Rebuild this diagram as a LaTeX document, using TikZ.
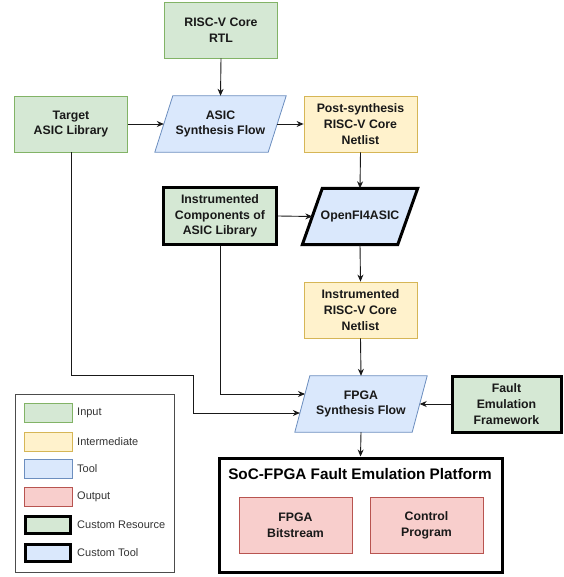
\documentclass[tikz,border=0pt]{standalone}
\usepackage{fontspec}
\setmainfont{Liberation Sans}
\usetikzlibrary{arrows.meta,calc,backgrounds}
\definecolor{ingf}{HTML}{D5E8D4}\definecolor{ingd}{HTML}{82B366}
\definecolor{imf}{HTML}{FFF2CC}\definecolor{imd}{HTML}{D6B656}
\definecolor{tof}{HTML}{DAE8FC}\definecolor{tod}{HTML}{6C8EBF}
\definecolor{ouf}{HTML}{F8CECC}\definecolor{oud}{HTML}{B85450}
\newcommand{\plgram}[3]{\begin{scope}[on background layer]\draw[#3] ([xshift=#2]#1.north west) -- ([xshift=#2]#1.north east) -- ([xshift=-#2]#1.south east) -- ([xshift=-#2]#1.south west) -- cycle;\end{scope}}
\tikzset{
  base/.style={align=center, font=\bfseries\fontsize{12.3}{15.8}\selectfont, minimum width=113pt, minimum height=56pt, inner sep=0pt, text=black!90},
  inbox/.style={base, draw=ingd, fill=ingf, line width=0.8pt},
  midbox/.style={base, draw=imd, fill=imf, line width=0.8pt},
  outbox/.style={base, draw=oud, fill=ouf, line width=0.8pt},
  custbox/.style={base, draw=black, fill=ingf, line width=3pt},
  toolnode/.style={base},
  toolshape/.style={draw=tod, fill=tof, line width=0.8pt},
  custshape/.style={draw=black, fill=tof, line width=3pt},
  arr/.style={-{Stealth[length=7pt,width=6pt]}, line width=0.9pt, black!90},
  swatch/.style={minimum width=48pt, minimum height=19pt, inner sep=0pt},
  leglabel/.style={anchor=west, font=\fontsize{11}{13}\selectfont, text=black!80, inner sep=0pt}
}
\begin{document}
\begin{tikzpicture}[x=1pt,y=-1pt]
\useasboundingbox (0,0) rectangle (563,577);
% main nodes
\node[inbox] (rtl) at (221,30) {RISC-V Core\\RTL};
\node[inbox] (target) at (71,124) {Target\\ASIC Library};
\node[toolnode] (asic) at (220.5,124) {ASIC\\Synthesis Flow};
\plgram{asic}{9pt}{toolshape}
\node[midbox] (post) at (360.5,124) {Post-synthesis\\RISC-V Core\\Netlist};
\node[custbox] (instcomp) at (220,216) {Instrumented\\Components of\\ASIC Library};
\node[toolnode, minimum width=95pt] (openfi) at (360,216.5) {OpenFI4ASIC};
\plgram{openfi}{10pt}{custshape}
\node[midbox] (instnet) at (360.5,310) {Instrumented\\RISC-V Core\\Netlist};
\node[toolnode, minimum width=117pt] (fpga) at (361,404) {FPGA\\Synthesis Flow};
\plgram{fpga}{7.5pt}{toolshape}
\node[custbox, minimum width=109pt] (fault) at (506.5,404) {Fault\\Emulation\\Framework};
% platform
\node[draw=black, line width=3pt, minimum width=283pt, minimum height=114pt, inner sep=0pt] (soc) at (360.5,515) {};
\node[font=\bfseries\fontsize{15.3}{18}\selectfont, inner sep=0pt] (soctitle) at (360,474) {SoC-FPGA Fault Emulation Platform};
\node[outbox] (bit) at (295.5,525) {FPGA\\Bitstream};
\node[outbox] (ctrl) at (426.5,525) {Control\\Program};
% connectors
\draw[arr] (rtl.south) -- (asic.north);
\draw[arr] (target.east) -- (asic.west);
\draw[arr] (asic.east) -- (post.west);
\draw[arr] (post.south) -- (openfi.north);
\draw[arr] (instcomp.east) -- (openfi.west);
\draw[arr] (openfi.south) -- (instnet.north);
\draw[arr] (instnet.south) -- (fpga.north);
\coordinate (fin1) at ($(fpga.west)+(-2.4,9)$);
\coordinate (fin2) at ($(fpga.west)+(2.7,-10)$);
\coordinate (bend1) at (193,375);
\draw[arr] (target.south) |- (bend1) |- (fin1);
\draw[arr] (instcomp.south) |- (fin2);
\draw[arr] (fault.west) -- (fpga.east);
\draw[arr] (fpga.south) -- (soc.north);
% legend
\node[draw=black!70, line width=0.8pt, minimum width=159pt, minimum height=178pt, inner sep=0pt] (legend) at (94.5,483) {};
\node[swatch, draw=ingd, fill=ingf, line width=0.8pt] (s1) at (48,413) {};
\node[swatch, draw=imd, fill=imf, line width=0.8pt] (s2) at (48,441.5) {};
\node[swatch, draw=tod, fill=tof, line width=0.8pt] (s3) at (48,469) {};
\node[swatch, draw=oud, fill=ouf, line width=0.8pt] (s4) at (48,497) {};
\node[swatch, draw=black, fill=ingf, line width=3pt, minimum width=45pt, minimum height=17pt] (s5) at (48,525) {};
\node[swatch, draw=black, fill=tof, line width=3pt, minimum width=45pt, minimum height=17pt] (s6) at (48,553) {};
\node[leglabel] (l1) at (77,413) {Input};
\node[leglabel] (l2) at (77,441.5) {Intermediate};
\node[leglabel] (l3) at (77,469) {Tool};
\node[leglabel] (l4) at (77,497) {Output};
\node[leglabel] (l5) at (77,525) {Custom Resource};
\node[leglabel] (l6) at (77,553) {Custom Tool};
\end{tikzpicture}
\end{document}
